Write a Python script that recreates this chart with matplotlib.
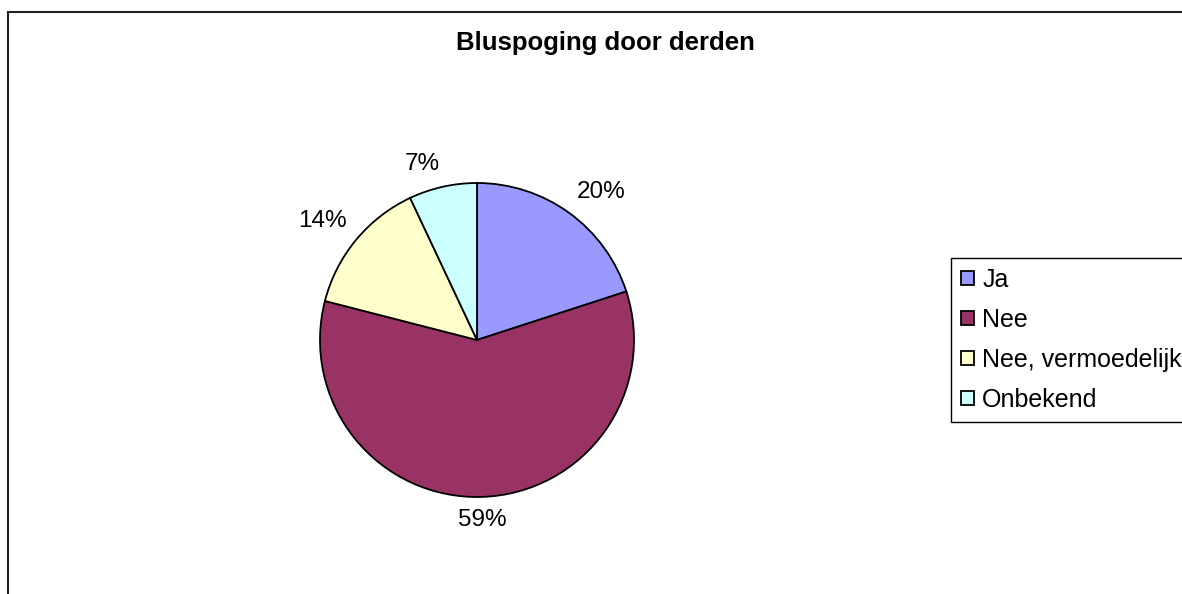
import matplotlib
matplotlib.use("Agg")
from matplotlib import pyplot as plt
from matplotlib.patches import Rectangle
import numpy as np

plt.rcParams['font.family'] = ['Liberation Sans', 'DejaVu Sans']

title = "Bluspoging door derden"
categories = ["Ja", "Nee", "Nee, vermoedelijk", "Onbekend"]
shares = [20, 59, 14, 7]
colors = ["#9999FF", "#993366", "#FFFFCC", "#CCFFFF"]

W, H = 1182, 594
fig = plt.figure(figsize=(W / 100, H / 100), dpi=100)

# chart area border (runs off right and bottom edges)
fig.add_artist(Rectangle((7.5 / W, -0.2), 1.5, 1 - 12 / H + 0.2,
                         transform=fig.transFigure, fill=False,
                         edgecolor="#222222", linewidth=1.5))

# pie: centre (477, 340) px, radius 157 px
cx, cy, r = 477, 340, 157
ax = fig.add_axes([(cx - r) / W, (H - cy - r) / H, 2 * r / W, 2 * r / H])
wedges, _ = ax.pie(shares, colors=colors, startangle=90, counterclock=False,
                   wedgeprops=dict(edgecolor="black", linewidth=1.3))
ax.set_xlim(-1, 1)
ax.set_ylim(-1, 1)
ax.set_aspect("equal")
ax.axis("off")

# percentage labels just outside each wedge, aligned away from the pie
for w, v in zip(wedges, shares):
    mid = np.radians((w.theta1 + w.theta2) / 2)
    c, s = np.cos(mid), np.sin(mid)
    ha = "center" if abs(c) < 0.1 else ("left" if c > 0 else "right")
    va = "bottom" if s > 0 else "top"
    d = 1.08
    ax.text(d * c, d * s, f"{v}%", ha=ha, va=va, fontsize=17.5,
            clip_on=False)

fig.text(605 / W, 1 - 43 / H, title, ha="center", va="center",
         fontsize=18.5, fontweight="bold")

leg = fig.legend(wedges, categories, loc="center left",
                 bbox_to_anchor=(951 / W, 1 - 340 / H),
                 bbox_transform=fig.transFigure, fontsize=18,
                 frameon=True, fancybox=False, framealpha=1,
                 edgecolor="black", handlelength=0.5, handleheight=0.5,
                 handletextpad=0.35, labelspacing=0.64, borderpad=0.4,
                 borderaxespad=0)
leg.get_frame().set_linewidth(1.0)

fig.savefig("out.png", dpi=100)
